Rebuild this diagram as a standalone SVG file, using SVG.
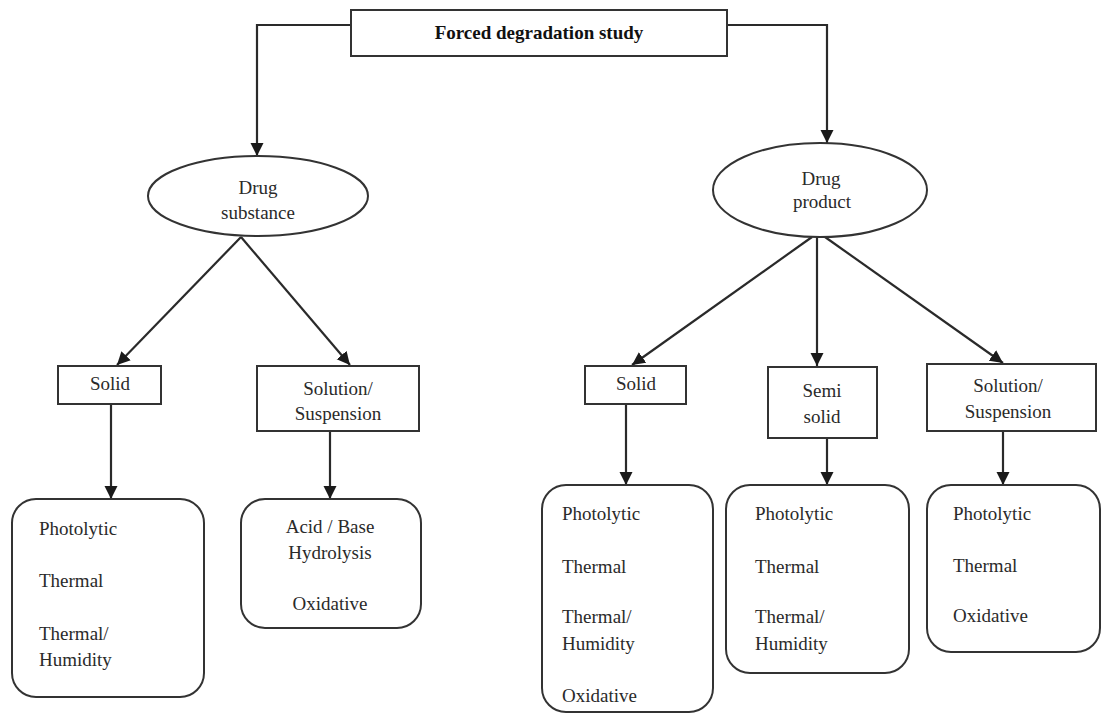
<svg xmlns="http://www.w3.org/2000/svg" width="1102" height="715" viewBox="0 0 1102 715" font-family="'Liberation Serif', 'DejaVu Serif', serif">
<style>
.bg{fill:#ffffff}
.box{fill:#ffffff;stroke:#333333;stroke-width:2}
.t{font-family:'Liberation Serif','DejaVu Serif',serif;font-size:19px;fill:#2a2a2a}
.c{text-anchor:middle}
.b{font-weight:bold;fill:#111111}
.conn{fill:none;stroke:#2a2a2a;stroke-width:2.2}
</style>
<defs>
<marker id="ah" markerUnits="userSpaceOnUse" markerWidth="14" markerHeight="14" viewBox="0 0 14 14" refX="13" refY="7" orient="auto">
<path d="M0,0.5 L13,7 L0,13.5 z" fill="#1a1a1a"/>
</marker>
</defs>
<rect class="bg" x="0" y="0" width="1102" height="715"/>

<g id="connectors">
<polyline class="conn" points="351,25 257,25 257,156" marker-end="url(#ah)"/>
<polyline class="conn" points="727,25 827,25 827,143" marker-end="url(#ah)"/>
<line class="conn" x1="241" y1="237" x2="117" y2="365" marker-end="url(#ah)"/>
<line class="conn" x1="241" y1="237" x2="350" y2="365" marker-end="url(#ah)"/>
<line class="conn" x1="812" y1="237" x2="632" y2="365" marker-end="url(#ah)"/>
<line class="conn" x1="817" y1="237" x2="817" y2="366" marker-end="url(#ah)"/>
<line class="conn" x1="825" y1="237" x2="1003" y2="363" marker-end="url(#ah)"/>
<line class="conn" x1="111" y1="404" x2="111" y2="499" marker-end="url(#ah)"/>
<line class="conn" x1="330" y1="431" x2="330" y2="499" marker-end="url(#ah)"/>
<line class="conn" x1="626" y1="404" x2="626" y2="485" marker-end="url(#ah)"/>
<line class="conn" x1="827" y1="438" x2="827" y2="485" marker-end="url(#ah)"/>
<line class="conn" x1="1003" y1="431" x2="1003" y2="485" marker-end="url(#ah)"/>
</g>

<g id="root">
<rect class="box" x="351" y="10" width="376" height="46"/>
<text class="t c b" x="539" y="39">Forced degradation study</text>
</g>

<g id="drug-substance">
<ellipse class="box" cx="258" cy="196" rx="110" ry="40"/>
<text class="t c" x="258" y="194">Drug</text>
<text class="t c" x="258" y="219">substance</text>
</g>

<g id="drug-product">
<ellipse class="box" cx="820" cy="190" rx="107" ry="47"/>
<text class="t c" x="821" y="185">Drug</text>
<text class="t c" x="822" y="208">product</text>
</g>

<g id="ds-solid">
<rect class="box" x="58" y="366" width="103" height="38"/>
<text class="t c" x="110" y="390">Solid</text>
</g>

<g id="ds-solution">
<rect class="box" x="257" y="366" width="162" height="65"/>
<text class="t c" x="338" y="395">Solution/</text>
<text class="t c" x="338" y="420">Suspension</text>
</g>

<g id="dp-solid">
<rect class="box" x="585" y="366" width="101" height="38"/>
<text class="t c" x="636" y="390">Solid</text>
</g>

<g id="dp-semisolid">
<rect class="box" x="768" y="367" width="109" height="71"/>
<text class="t c" x="822" y="397">Semi</text>
<text class="t c" x="822" y="423">solid</text>
</g>

<g id="dp-solution">
<rect class="box" x="927" y="364" width="169" height="67"/>
<text class="t c" x="1008" y="392">Solution/</text>
<text class="t c" x="1008" y="418">Suspension</text>
</g>

<g id="ds-solid-tests">
<rect class="box" x="12" y="499" width="192" height="198" rx="24" ry="24"/>
<text class="t" x="39" y="535">Photolytic</text>
<text class="t" x="39" y="587">Thermal</text>
<text class="t" x="39" y="640">Thermal/</text>
<text class="t" x="39" y="666">Humidity</text>
</g>

<g id="ds-solution-tests">
<rect class="box" x="241" y="499" width="180" height="129" rx="24" ry="24"/>
<text class="t c" x="330" y="533">Acid / Base</text>
<text class="t c" x="330" y="559">Hydrolysis</text>
<text class="t c" x="330" y="610">Oxidative</text>
</g>

<g id="dp-solid-tests">
<rect class="box" x="542" y="485" width="171" height="227" rx="24" ry="24"/>
<text class="t" x="562" y="520">Photolytic</text>
<text class="t" x="562" y="573">Thermal</text>
<text class="t" x="562" y="623">Thermal/</text>
<text class="t" x="562" y="650">Humidity</text>
<text class="t" x="562" y="702">Oxidative</text>
</g>

<g id="dp-semisolid-tests">
<rect class="box" x="726" y="485" width="183" height="188" rx="24" ry="24"/>
<text class="t" x="755" y="520">Photolytic</text>
<text class="t" x="755" y="573">Thermal</text>
<text class="t" x="755" y="623">Thermal/</text>
<text class="t" x="755" y="650">Humidity</text>
</g>

<g id="dp-solution-tests">
<rect class="box" x="927" y="485" width="173" height="167" rx="24" ry="24"/>
<text class="t" x="953" y="520">Photolytic</text>
<text class="t" x="953" y="572">Thermal</text>
<text class="t" x="953" y="622">Oxidative</text>
</g>
</svg>
